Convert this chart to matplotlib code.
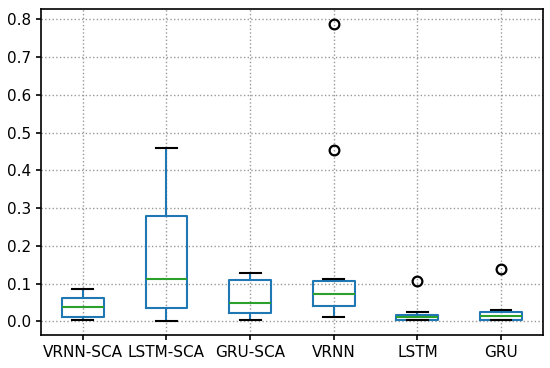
import matplotlib
matplotlib.use("Agg")
import matplotlib.pyplot as plt

labels = ["VRNN-SCA", "LSTM-SCA", "GRU-SCA", "VRNN", "LSTM", "GRU"]
whislo = [0.003, 0.002, 0.003, 0.011, 0.004, 0.003]
q1 = [0.012, 0.036, 0.023, 0.041, 0.005, 0.005]
med = [0.038, 0.111, 0.048, 0.073, 0.011, 0.015]
q3 = [0.061, 0.278, 0.109, 0.107, 0.017, 0.024]
whishi = [0.086, 0.458, 0.127, 0.112, 0.026, 0.030]
fliers = [[], [], [], [0.788, 0.454], [0.108], [0.138]]

stats = [dict(label=l, whislo=a, q1=b, med=c, q3=d, whishi=e, fliers=f)
         for l, a, b, c, d, e, f in zip(labels, whislo, q1, med, q3, whishi, fliers)]

fig = plt.figure(figsize=(5.5, 3.68), dpi=100)
ax = fig.add_axes([0.0745, 0.0897, 0.9125, 0.8858])
ax.bxp(stats,
       boxprops=dict(color="#1f77b4", linewidth=1.5),
       whiskerprops=dict(color="#1f77b4", linewidth=1.5),
       capprops=dict(color="black", linewidth=1.5),
       medianprops=dict(color="#2ca02c", linewidth=1.5),
       flierprops=dict(marker="o", markerfacecolor="none", markeredgecolor="black",
                       markersize=7, markeredgewidth=1.6))
ax.set_ylim(-0.036, 0.827)
ax.set_yticks([0.0, 0.1, 0.2, 0.3, 0.4, 0.5, 0.6, 0.7, 0.8])
ax.grid(True, linestyle=":", color="#999999", linewidth=1)
ax.set_axisbelow(True)
ax.tick_params(labelsize=11, width=1.2)
for s in ax.spines.values():
    s.set_linewidth(1.2)
fig.savefig("out.png", dpi=100)
